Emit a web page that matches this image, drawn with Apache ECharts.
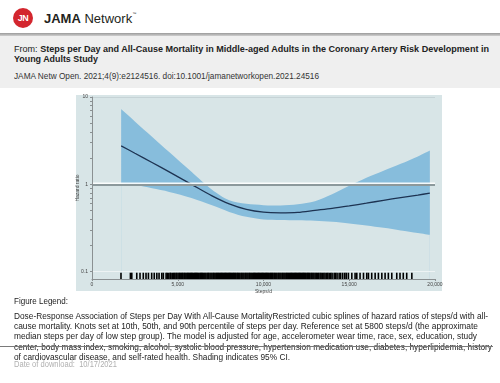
<!DOCTYPE html>
<html><head><meta charset="utf-8">
<script src="https://cdn.jsdelivr.net/npm/echarts@6/dist/echarts.min.js"></script>
<style>
body{margin:0;width:500px;height:383px;overflow:hidden;background:#fff;font-family:"Liberation Sans",Arial,sans-serif;position:relative}
.t{position:absolute;white-space:nowrap;color:#222;line-height:1;transform-origin:0 50%}
</style></head><body>
<div style="position:absolute;left:0;top:33px;width:500px;height:3px;background:linear-gradient(#9a9a9a,#cfcfcf)"></div>
<div style="position:absolute;left:0;top:36px;width:500px;height:52px;background:#efefef"></div>
<div style="position:absolute;left:13px;top:8px;width:20px;height:20px;border-radius:50%;background:#d3262e;color:#fff;font:bold 9px 'Liberation Sans';text-align:center;line-height:20px;letter-spacing:-0.5px">JN</div>
<div class="t" style="left:44px;top:12px;font-size:13px;color:#231f20"><b>JAMA</b> Network<span style="font-size:4px;vertical-align:top">™</span></div>
<div class="t fit" data-w="475" style="left:14px;top:43.5px;font-size:9.5px">From: <b>Steps per Day and All-Cause Mortality in Middle-aged Adults in the Coronary Artery Risk Development in</b></div>
<div class="t fit" data-w="84" style="left:14px;top:54px;font-size:9.5px"><b>Young Adults Study</b></div>
<div class="t fit" data-w="305" style="left:14px;top:72px;font-size:8.3px;color:#333">JAMA Netw Open. 2021;4(9):e2124516. doi:10.1001/jamanetworkopen.2021.24516</div>
<div style="position:absolute;left:76px;top:95px;width:366px;height:196px;background:#d8e5e7"></div>
<div id="chart" style="position:absolute;left:0;top:0;width:500px;height:383px"></div>
<div class="t fit" data-w="54" style="left:14px;top:297px;font-size:9px">Figure Legend:</div>
<div class="t fit" data-w="474" style="left:14px;top:312px;font-size:9px">Dose-Response Association of Steps per Day With All-Cause MortalityRestricted cubic splines of hazard ratios of steps/d with all-</div>
<div class="t fit" data-w="464" style="left:14px;top:322px;font-size:9px">cause mortality. Knots set at 10th, 50th, and 90th percentile of steps per day. Reference set at 5800 steps/d (the approximate</div>
<div class="t fit" data-w="463" style="left:14px;top:332px;font-size:9px">median steps per day of low step group). The model is adjusted for age, accelerometer wear time, race, sex, education, study</div>
<div class="t fit" data-w="478" style="left:14px;top:342.5px;font-size:9px">center, body mass index, smoking, alcohol, systolic blood pressure, hypertension medication use, diabetes, hyperlipidemia, history</div>
<div class="t fit" data-w="276" style="left:14px;top:352.5px;font-size:9px">of cardiovascular disease, and self-rated health. Shading indicates 95% CI.</div>
<div class="t fit" data-w="103" style="left:14px;top:360px;font-size:8.5px;color:#b0b0b0">Date of download:&nbsp; 10/17/2021</div>
<div style="position:absolute;left:0;top:346px;width:493px;height:1px;background:#7a7a7a"></div>
<script>
// ---- data ----
const stepsGrid = [1700, 2500, 3500, 4500, 5800, 7000, 8000, 9000, 10000, 11000, 12000, 13000, 14000, 15000, 16000, 17000, 18000, 19000, 19700];
const hrEstimate = [2.76, 2.27, 1.78, 1.39, 1.0, 0.738, 0.598, 0.517, 0.480, 0.472, 0.478, 0.504, 0.531, 0.567, 0.609, 0.656, 0.705, 0.754, 0.793];
const hrUpper = [7.27, 5.25, 3.51, 2.34, 1.39, 0.865, 0.656, 0.598, 0.578, 0.572, 0.590, 0.639, 0.768, 0.961, 1.19, 1.43, 1.72, 2.09, 2.44];
const hrLower = [1.02, 0.987, 0.90, 0.82, 0.70, 0.575, 0.484, 0.425, 0.397, 0.392, 0.387, 0.382, 0.372, 0.357, 0.339, 0.318, 0.297, 0.278, 0.264];
const rugSteps = [1690, 2240, 2320, 2610, 2800, 2990, 3150, 3290, 3480, 3630, 3780, 3910, 4070, 4160, 4320, 4390, 4480, 4560, 4610, 4700, 4770, 4830, 4900, 4950, 5020, 5090, 5140, 5200, 5260, 5310, 5380, 5430, 5490, 5560, 5610, 5680, 5740, 5800, 5850, 5920, 5990, 6040, 6100, 6150, 6220, 6290, 6340, 6400, 6450, 6520, 6580, 6640, 6710, 6760, 6810, 6880, 6940, 7000, 7070, 7120, 7180, 7250, 7300, 7360, 7420, 7490, 7540, 7600, 7660, 7730, 7780, 7840, 7900, 7970, 8020, 8080, 8140, 8210, 8260, 8320, 8380, 8450, 8500, 8560, 8620, 8690, 8740, 8800, 8860, 8930, 8980, 9040, 9100, 9170, 9220, 9280, 9340, 9410, 9460, 9520, 9580, 9650, 9700, 9760, 9820, 9890, 9940, 10000, 10060, 10130, 10180, 10240, 10300, 10370, 10420, 10480, 10540, 10610, 10660, 10720, 10780, 10850, 10900, 10960, 11020, 11090, 11140, 11200, 11260, 11330, 11380, 11440, 11500, 11570, 11620, 11680, 11740, 11810, 11860, 11920, 11980, 12050, 12100, 12160, 12220, 12290, 12340, 12400, 12460, 12530, 12580, 12640, 12700, 12770, 12820, 12880, 12940, 13010, 13080, 13150, 13220, 13300, 13360, 13440, 13520, 13590, 13680, 13750, 13830, 13920, 14000, 14120, 14200, 14290, 14410, 14500, 14620, 14740, 14830, 14950, 15150, 15340, 15440, 15630, 15830, 16020, 16120, 16310, 16510, 16700, 16900, 17090, 17280, 17480, 17770, 17960, 18150, 18350, 18650];
const xTickLabels = [0, 5000, 10000, 15000, 20000];
const yLabelValues = [0.1, 1, 10];
const yTickValues = [0.1, 0.2, 0.3, 0.4, 0.5, 0.6, 0.7, 0.8, 0.9, 1, 2, 3, 4, 5, 6, 7, 8, 9, 10];
const referenceHR = 1;

// ---- fit text lines to reference widths (horizontal scale) ----
document.querySelectorAll('.fit').forEach(el => {
  const w = +el.dataset.w;
  const nat = el.getBoundingClientRect().width;
  el.style.transform = 'scaleX(' + (w / nat) + ')';
});

const yMin = 0.0825;
const FF = '"Liberation Sans", Arial, sans-serif';
const bg = '#d8e5e7';
const chart = echarts.init(document.getElementById('chart'));
chart.setOption({
  animation: false,
  backgroundColor: 'transparent',
  grid: { left: 92, right: 65, top: 97, bottom: 104 },
  xAxis: {
    type: 'value', min: 0, max: 20000, interval: 5000, z: 10,
    axisLine: { lineStyle: { color: '#8a9092', width: 1 } },
    axisTick: { length: 2, lineStyle: { color: '#8a9092' } },
    axisLabel: { fontSize: 5, color: '#444', margin: 3, fontFamily: FF,
      customValues: xTickLabels },
    splitLine: { show: false },
    name: 'Steps/d', nameLocation: 'middle', nameGap: 10, nameMoveOverlap: false,
    nameTextStyle: { fontSize: 5, color: '#444', fontFamily: FF }
  },
  yAxis: {
    type: 'log', logBase: 10, min: yMin, max: 10, z: 10,
    axisLine: { show: true, lineStyle: { color: '#8a9092', width: 1 } },
    axisTick: { show: true, length: 2, customValues: yTickValues, lineStyle: { color: '#8a9092' } },
    axisLabel: { customValues: yLabelValues, fontSize: 5, color: '#444', margin: 4, fontFamily: FF,
      formatter: v => String(v) },
    splitLine: { show: false },
    minorTick: { show: false },
    name: 'Hazard ratio', nameLocation: 'middle', nameGap: 12, nameMoveOverlap: false,
    nameTextStyle: { fontSize: 5, color: '#444', fontFamily: FF }
  },
  series: [
    {
      type: 'line', z: 2, smooth: 0.3, symbol: 'none', silent: true,
      data: stepsGrid.map((s, i) => [s, hrUpper[i]]),
      lineStyle: { width: 0 },
      areaStyle: { color: '#87bddc', opacity: 1, origin: 'start' }
    },
    {
      type: 'line', z: 3, smooth: 0.3, symbol: 'none', silent: true,
      data: stepsGrid.map((s, i) => [s, hrLower[i]]),
      lineStyle: { width: 0 },
      areaStyle: { color: bg, opacity: 1, origin: 'start' }
    },
    {
      type: 'line', z: 4, smooth: 0.3, symbol: 'none', silent: true,
      data: stepsGrid.map((s, i) => [s, hrEstimate[i]]),
      lineStyle: { width: 1.3, color: '#1d3352' },
      markLine: {
        symbol: 'none', silent: true, label: { show: false },
        data: [
          { yAxis: 10, lineStyle: { color: '#c6d3d6', width: 1, type: 'solid' } },
          { yAxis: 0.1, lineStyle: { color: '#edf3f4', width: 1, type: 'solid' } },
          { yAxis: referenceHR, lineStyle: { color: '#8c999c', width: 2, type: 'solid',
            shadowColor: 'rgba(255,255,255,0.9)', shadowOffsetY: -1.5, shadowBlur: 0 } }
        ]
      }
    },
    {
      type: 'custom', z: 5, silent: true,
      data: rugSteps.map(v => [v, 0.1]),
      encode: { x: 0, y: 1 },
      renderItem: (params, api) => {
        const x = api.value(0);
        const a = api.coord([x, 0.1]);
        const b = api.coord([x, yMin]);
        return { type: 'line', shape: { x1: a[0], y1: a[1] + 1, x2: b[0], y2: b[1] },
          style: { stroke: '#000', lineWidth: 1.6 } };
      }
    }
  ]
});
</script>
</body></html>
